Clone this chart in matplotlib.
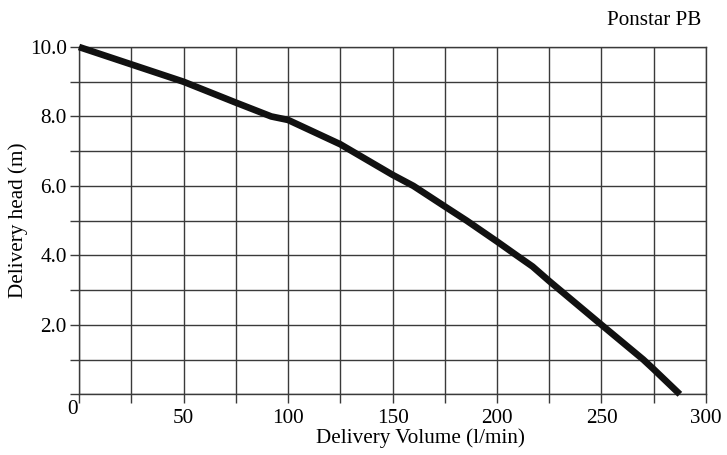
import numpy as np
import matplotlib.pyplot as plt
from matplotlib.ticker import MultipleLocator, FixedLocator

config_plt = {
  "font.family": ["Liberation Serif", "DejaVu Serif"],
  "font.size": 15.2,
  "xtick.direction": "out",
  "ytick.direction": "out",
  "xtick.labelsize": 15.2,
  "ytick.labelsize": 15.2,
  "axes.labelsize": 15.2,
}
plt.rcParams.update(config_plt)

# pump curve
volume = [0, 25, 50, 75, 92, 100, 125, 150, 160, 175, 185.5, 200, 209.4, 217, 225, 250, 270, 275, 287.5]
head = [10.0, 9.5, 9.0, 8.4, 8.0, 7.9, 7.2, 6.32, 6.0, 5.41, 5.0, 4.4, 4.0, 3.68, 3.26, 2.0, 1.0, 0.72, 0.0]

x_labels = [50, 100, 150, 200, 250, 300]
y_labels = [2.0, 4.0, 6.0, 8.0, 10.0]

grid_c = "#3a3a3a"

fig = plt.figure(figsize=(7.27, 4.55), dpi=100)
ax = fig.add_axes([0.1087, 0.1334, 0.8624, 0.7633])

ax.plot(volume, head, color="#111111", lw=4.8, solid_capstyle="butt",
        solid_joinstyle="round", clip_on=False, zorder=3)

ax.set_xlim(0, 300)
ax.set_ylim(0, 10)

ax.xaxis.set_major_locator(FixedLocator(x_labels))
ax.xaxis.set_minor_locator(MultipleLocator(25))
ax.yaxis.set_major_locator(FixedLocator(y_labels))
ax.yaxis.set_minor_locator(MultipleLocator(1))
ax.set_xticklabels([str(v) for v in x_labels])
ax.set_yticklabels([f"{v:.1f}" for v in y_labels])

ax.grid(True, which="both", color=grid_c, lw=1.0)
ax.set_axisbelow(True)
for s in ax.spines.values():
    s.set_color(grid_c)
    s.set_linewidth(1.0)
ax.tick_params(which="both", length=6.5, width=1.0, color=grid_c)
ax.tick_params(axis="x", which="both", pad=4)
ax.tick_params(axis="y", which="both", pad=2.5)

# origin label
ax.annotate("0", xy=(0, 0), xycoords="data", xytext=(-5, -11),
            textcoords="offset points", ha="center", va="center")

ax.set_xlabel("Delivery Volume (l/min)", labelpad=0)
ax.xaxis.label.set_x(0.544)
ax.set_ylabel("Delivery head (m)", labelpad=1)

fig.text(0.964, 0.955, "Ponstar PB", ha="right", va="center", fontsize=15.2)

fig.savefig("out.png", dpi=100)
